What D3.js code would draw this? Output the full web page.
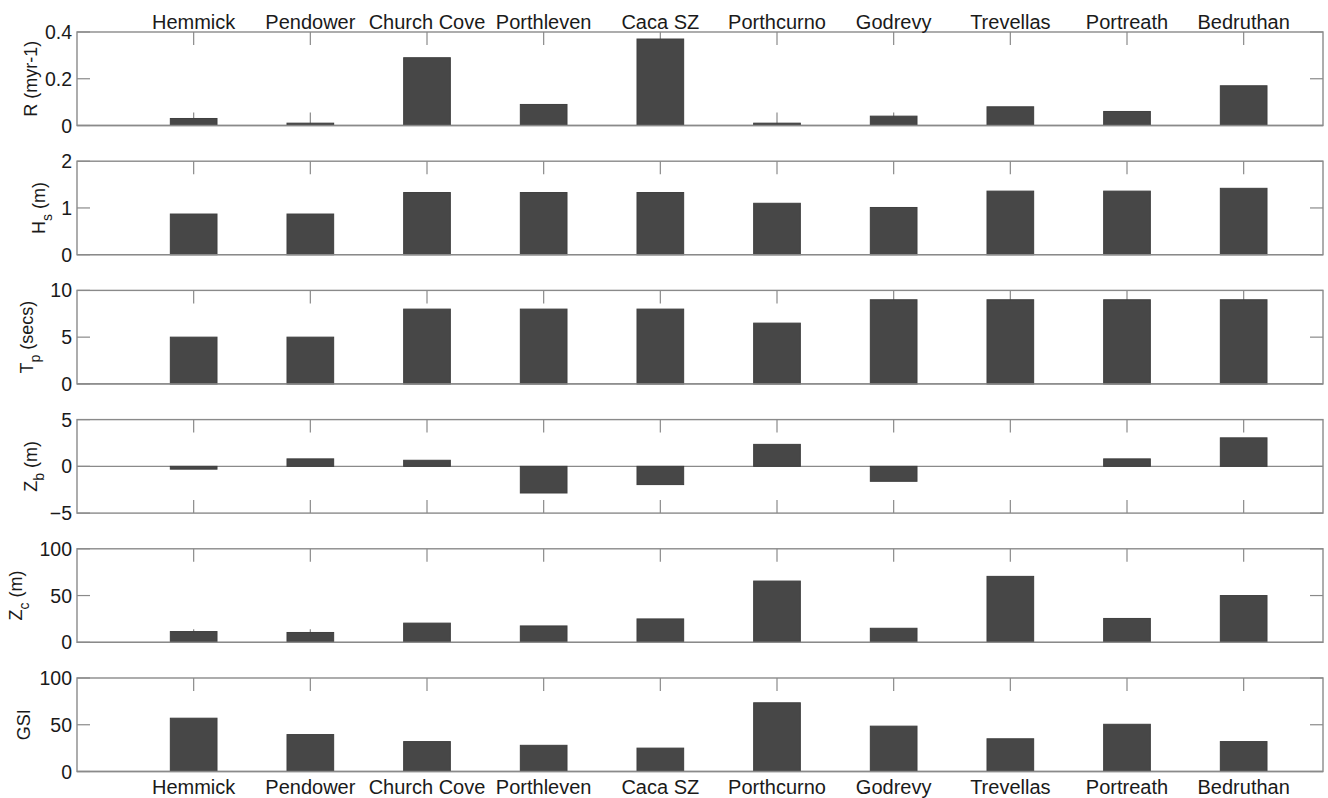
<!DOCTYPE html>
<html>
<head>
<meta charset="utf-8">
<script src="https://cdn.jsdelivr.net/npm/d3@7"></script>
<style>
  html, body { margin: 0; padding: 0; background: #fff; }
  svg { display: block; }
  text { font-family: "Liberation Sans", Arial, Helvetica, sans-serif; fill: #1a1a1a; }
</style>
</head>
<body>
<svg id="chart" width="1328" height="798"></svg>
<script>
// ---- data ----
const categories = ["Hemmick", "Pendower", "Church Cove", "Porthleven", "Caca SZ", "Porthcurno", "Godrevy", "Trevellas", "Portreath", "Bedruthan"];
const rValues   = [0.03, 0.01, 0.29, 0.09, 0.37, 0.01, 0.04, 0.08, 0.06, 0.17];
const hsValues  = [0.87, 0.87, 1.33, 1.33, 1.33, 1.10, 1.01, 1.36, 1.36, 1.42];
const tpValues  = [5, 5, 8, 8, 8, 6.5, 9, 9, 9, 9];
const zbValues  = [-0.3, 0.8, 0.65, -2.85, -1.95, 2.35, -1.6, 0, 0.8, 3.05];
const zcValues  = [11.5, 10.5, 20.5, 17.5, 25, 65.5, 15, 70.5, 25.5, 50];
const gsiValues = [57, 39.5, 32, 28, 25, 73.5, 48.5, 35, 50.5, 32];

const rTicks   = [0, 0.2, 0.4];
const hsTicks  = [0, 1, 2];
const tpTicks  = [0, 5, 10];
const zbTicks  = [-5, 0, 5];
const zcTicks  = [0, 50, 100];
const gsiTicks = [0, 50, 100];

const panels = [
  { values: rValues,   ticks: rTicks,   domain: [0, 0.4], label: [["R (myr-1)", null]], labelX: 37 },
  { values: hsValues,  ticks: hsTicks,  domain: [0, 2],   label: [["H", null], ["s", "sub"], [" (m)", "back"]], labelX: 45 },
  { values: tpValues,  ticks: tpTicks,  domain: [0, 10],  label: [["T", null], ["p", "sub"], [" (secs)", "back"]], labelX: 33 },
  { values: zbValues,  ticks: zbTicks,  domain: [-5, 5],  label: [["Z", null], ["b", "sub"], [" (m)", "back"]], labelX: 37 },
  { values: zcValues,  ticks: zcTicks,  domain: [0, 100], label: [["Z", null], ["c", "sub"], [" (m)", "back"]], labelX: 22 },
  { values: gsiValues, ticks: gsiTicks, domain: [0, 100], label: [["GSI", null]], labelX: 30 }
];

// ---- layout ----
const svg = d3.select("#chart");
const left = 77, right = 1323;
const firstTop = 32, panelH = 93.5, step = 129.2;
const tickLen = 13;
const axisColor = "#8a8a8a";
const barColor = "#474747";

const x = d3.scaleLinear().domain([0, 10.68]).range([left, right]);
const idx = categories.map((c, i) => i + 1);
const barW = x(0.4) - x(0);

panels.forEach((p, pi) => {
  const top = firstTop + pi * step;
  const bottom = top + panelH;
  const y = d3.scaleLinear().domain(p.domain).range([bottom, top]);
  const g = svg.append("g");

  // x ticks (top and bottom, inward)
  g.selectAll(".xt").data(idx).join("line")
    .attr("x1", d => x(d)).attr("x2", d => x(d))
    .attr("y1", top).attr("y2", top + tickLen)
    .attr("stroke", axisColor).attr("stroke-width", 1.2);
  g.selectAll(".xb").data(idx).join("line")
    .attr("x1", d => x(d)).attr("x2", d => x(d))
    .attr("y1", bottom).attr("y2", bottom - tickLen)
    .attr("stroke", axisColor).attr("stroke-width", 1.2);

  // y ticks left and right (inward)
  g.selectAll(".yl").data(p.ticks).join("line")
    .attr("x1", left).attr("x2", left + tickLen)
    .attr("y1", d => y(d)).attr("y2", d => y(d))
    .attr("stroke", axisColor).attr("stroke-width", 1.2);
  g.selectAll(".yr").data(p.ticks).join("line")
    .attr("x1", right).attr("x2", right - tickLen)
    .attr("y1", d => y(d)).attr("y2", d => y(d))
    .attr("stroke", axisColor).attr("stroke-width", 1.2);

  // baseline at zero
  g.append("line")
    .attr("x1", left).attr("x2", right)
    .attr("y1", y(0)).attr("y2", y(0))
    .attr("stroke", axisColor).attr("stroke-width", 1.3);

  // bars
  g.selectAll(".bar").data(p.values).join("rect")
    .attr("x", (d, i) => x(i + 1) - barW / 2)
    .attr("width", barW)
    .attr("y", d => y(Math.max(0, d)))
    .attr("height", d => Math.abs(y(d) - y(0)))
    .attr("fill", barColor)
    .attr("stroke", "#3f3f3f").attr("stroke-width", 1);

  // box
  g.append("rect")
    .attr("x", left).attr("y", top)
    .attr("width", right - left).attr("height", panelH)
    .attr("fill", "none").attr("stroke", axisColor).attr("stroke-width", 1.4);

  // y tick labels
  g.selectAll(".ytl").data(p.ticks).join("text")
    .attr("x", left - 5).attr("y", d => y(d))
    .attr("text-anchor", "end").attr("dominant-baseline", "central")
    .style("font-size", "19.5px")
    .text(d => d3.format("")(d));

  // y label
  const lab = g.append("text")
    .attr("transform", `translate(${p.labelX},${(top + bottom) / 2}) rotate(-90)`)
    .attr("text-anchor", "middle")
    .style("font-size", "18px");
  p.label.forEach(([t, kind]) => {
    const ts = lab.append("tspan").text(t);
    if (kind === "sub") ts.attr("dy", 7).style("font-size", "14px");
    if (kind === "back") ts.attr("dy", -7);
  });

  // category labels
  if (pi === 0 || pi === panels.length - 1) {
    g.selectAll(".cat").data(categories).join("text")
      .attr("x", (d, i) => x(i + 1))
      .attr("y", pi === 0 ? 29 : 794)
      .attr("text-anchor", "middle")
      .style("font-size", "20px")
      .text(d => d);
  }
});
</script>
</body>
</html>
